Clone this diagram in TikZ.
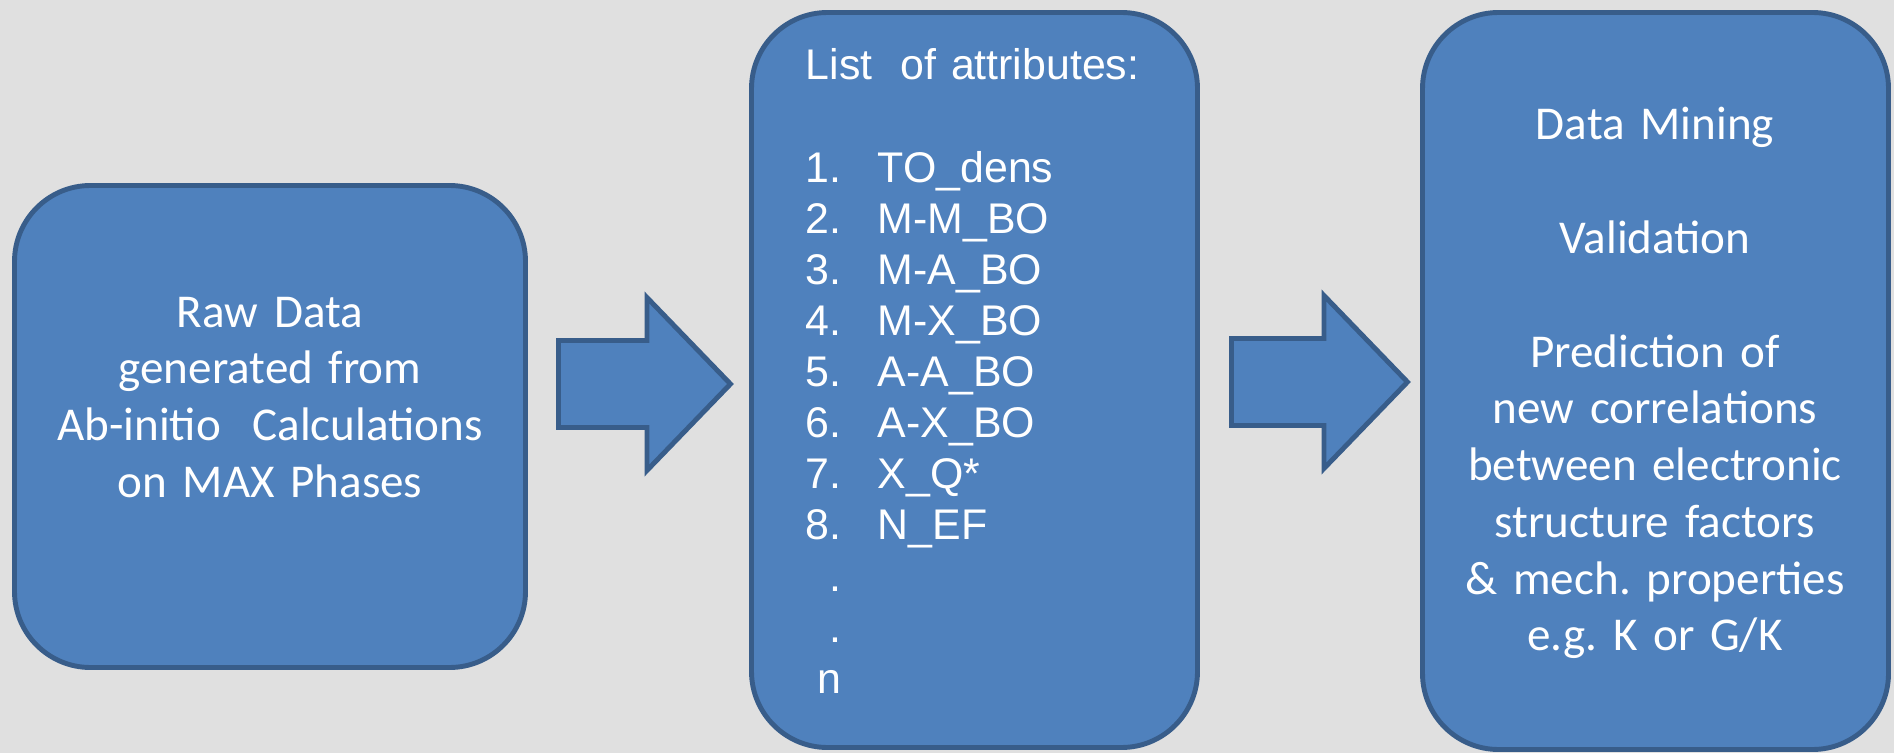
\documentclass[tikz,border=0pt]{standalone}
\usepackage{fontspec}
\setmainfont{Carlito}
\newfontfamily\arialfont{Liberation Sans}
\definecolor{officeblue}{RGB}{79, 129, 189}
\definecolor{officeedge}{RGB}{56, 93, 138}
\definecolor{slidegray}{RGB}{224, 224, 224}
\usepackage{tikz}
\usetikzlibrary{shapes.arrows, positioning, calc}
\newcommand{\attr}[2]{\makebox[0.72cm][l]{#1}#2}
\frenchspacing

\begin{document}
\begin{tikzpicture}[
    stage/.style={draw=officeedge, line width=1.4pt, fill=officeblue, rounded corners=0.76cm, inner sep=0pt},
    fatarrow/.style={single arrow, draw=officeedge, line width=1.4pt, fill=officeblue, inner xsep=0pt, inner ysep=0.41cm,
        single arrow head extend=0.43cm, single arrow tip angle=92, minimum height=1.72cm, anchor=tail},
    stagetext/.style={text=white, inner sep=0pt, font=\fontsize{13.4}{16.15}\selectfont}
]
    \fill[slidegray] (0,0) rectangle (18.94,7.53);
    \useasboundingbox (0,0) rectangle (18.94,7.53);

    \node[stage, minimum width=5.11cm, minimum height=4.82cm] (raw) at (2.70, 3.265) {};
    \node[stage, minimum width=4.46cm, minimum height=7.35cm] (attr) at (9.745, 3.73) {};
    \node[stage, minimum width=4.66cm, minimum height=7.37cm] (mining) at (16.555, 3.72) {};

    \node[fatarrow] (arr1) at (5.56, 3.69) {};
    \node[fatarrow, minimum height=1.76cm] (arr2) at (12.29, 3.71) {};

    \node[stagetext, anchor=base, text width=5cm, align=center] (rawtext) at (2.70, 4.26)
        {Raw Data\\generated from\\Ab-initio\ \ Calculations\\on MAX Phases};

    \node[stagetext, anchor=base west, text width=4cm, align=left,
          font=\arialfont\fontsize{12.2}{14.54}\selectfont] (attrtext) at (8.05, 6.73)
        {List\ \ of attributes:\\\mbox{}\\
         \attr{1.}{TO\_dens}\\
         \attr{2.}{M-M\_BO}\\
         \attr{3.}{M-A\_BO}\\
         \attr{4.}{M-X\_BO}\\
         \attr{5.}{A-A\_BO}\\
         \attr{6.}{A-X\_BO}\\
         \attr{7.}{X\_Q*}\\
         \attr{8.}{N\_EF}\\
         \hphantom{1}.\\
         \hphantom{1}.\\
         \hspace{0.278em}n};

    \node[stagetext, anchor=base, text width=4.5cm, align=center] (miningtext) at (16.55, 6.13)
        {Data Mining\\\mbox{}\\Validation\\\mbox{}\\Prediction of\\new correlations\\between electronic\\structure factors\\\& mech. properties\\e.g. K or G/K};
\end{tikzpicture}
\end{document}
